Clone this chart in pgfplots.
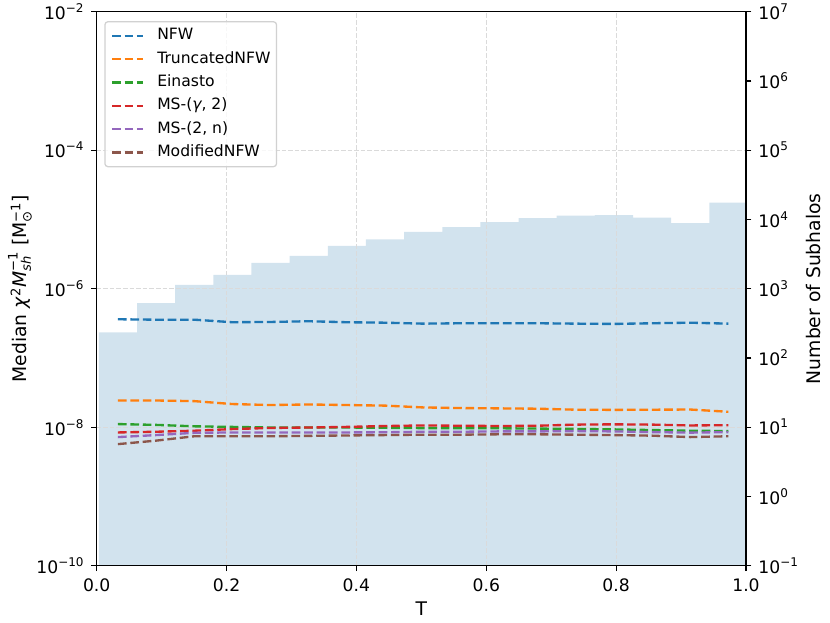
\documentclass[border=0pt]{standalone}
\usepackage{amsmath}
\usepackage{fontspec}
\setmainfont{DejaVu Sans}
\usepackage{pgfplots}
\usepackage{pgfplotstable}
\pgfplotsset{compat=1.18}
\definecolor{C0}{HTML}{1F77B4}
\definecolor{C1}{HTML}{FF7F0E}
\definecolor{C2}{HTML}{2CA02C}
\definecolor{C3}{HTML}{D62728}
\definecolor{C4}{HTML}{9467BD}
\definecolor{C5}{HTML}{8C564B}
\definecolor{histcol}{RGB}{210,227,238}
\definecolor{gridcol}{RGB}{218,218,218}
\newcommand{\tickfont}{\fontsize{17.2}{20.5}\selectfont}
\newcommand{\labfont}{\fontsize{18.75}{22}\selectfont}
\newcommand{\legfont}{\fontsize{15.6}{18}\selectfont}
\newcommand{\tenpow}[1]{10\raisebox{0.41em}{\fontsize{12}{13}\selectfont #1}}
\newcommand{\logtick}{\tenpow{\pgfmathparse{int(round(\tick))}\ifnum\pgfmathresult<0 −\number\numexpr-\pgfmathresult\relax\else\pgfmathresult\fi}}

\pgfplotstableread{
x      nfw      tnfw     ein      msg     msn      mnfw
0.0327 3.62e-7  2.43e-8  1.11e-8  0.84e-8 0.72e-8  0.57e-8
0.0915 3.57e-7  2.43e-8  1.08e-8  0.86e-8 0.77e-8  0.64e-8
0.1503 3.57e-7  2.38e-8  1.03e-8  0.89e-8 0.83e-8  0.74e-8
0.2090 3.28e-7  2.16e-8  1.01e-8  0.94e-8 0.84e-8  0.74e-8
0.2678 3.31e-7  2.09e-8  0.99e-8  0.975e-8 0.84e-8 0.74e-8
0.3265 3.39e-7  2.13e-8  0.99e-8  0.99e-8 0.84e-8  0.75e-8
0.3853 3.28e-7  2.09e-8  0.99e-8  1.01e-8 0.84e-8  0.76e-8
0.4441 3.23e-7  2.05e-8  0.98e-8  1.04e-8 0.845e-8 0.77e-8
0.5028 3.13e-7  1.93e-8  0.97e-8  1.06e-8 0.86e-8  0.78e-8
0.5616 3.17e-7  1.89e-8  0.965e-8 1.05e-8 0.86e-8  0.78e-8
0.6203 3.17e-7  1.87e-8  0.965e-8 1.04e-8 0.87e-8  0.79e-8
0.6791 3.17e-7  1.85e-8  0.955e-8 1.05e-8 0.87e-8  0.79e-8
0.7379 3.13e-7  1.79e-8  0.945e-8 1.09e-8 0.88e-8  0.78e-8
0.7966 3.10e-7  1.78e-8  0.93e-8  1.10e-8 0.87e-8  0.77e-8
0.8554 3.17e-7  1.79e-8  0.91e-8  1.09e-8 0.85e-8  0.755e-8
0.9141 3.23e-7  1.80e-8  0.89e-8  1.06e-8 0.835e-8 0.72e-8
0.9729 3.13e-7  1.67e-8  0.88e-8  1.07e-8 0.85e-8  0.74e-8
}\medians

\begin{document}
\begin{tikzpicture}[font=\tickfont]
\path[use as bounding box] (-96.7pt,-57.3pt) rectangle (733.3pt,565.7pt);
% histogram on right axis
\begin{axis}[
  scale only axis, width=649.3pt, height=554pt,
  xmin=0, xmax=1,
  ymode=log, log basis y=10, ymin=0.1, ymax=1e7,
  log origin y=infty,
  axis y line*=right, axis x line=none,
  ytick={0.1,1,10,100,1000,10000,100000,1000000,10000000},
  yticklabel={\logtick},
  tick align=outside,
  major tick length=5.47pt, minor tick length=3.1pt,
  every tick/.style={black, line width=1.25pt},
  every minor tick/.style={black, line width=0.9pt},
  axis line style={line width=1.25pt},
  yticklabel style={font=\tickfont, inner sep=0pt, anchor=west, xshift=6.8pt},
  ylabel={Number of Subhalos},
  every axis y label/.style={font=\labfont, at={(axis description cs:1.1155,0.5)}, anchor=base, rotate=90, inner sep=0pt},
]
\addplot[ybar interval, fill=histcol, draw=none] coordinates {
(0.0033,234) (0.0621,619) (0.1209,1136) (0.1796,1583) (0.2384,2358)
(0.2971,2970) (0.3559,4144) (0.4147,5170) (0.4734,6590) (0.5322,7770)
(0.5909,9180) (0.6497,10490) (0.7085,11310) (0.7672,11580) (0.8260,10590)
(0.8847,8880) (0.9435,17430) (1.0023,17430)};
\end{axis}
% medians on left axis
\begin{axis}[
  scale only axis, width=649.3pt, height=554pt,
  xmin=0, xmax=1,
  ymode=log, log basis y=10, ymin=1e-10, ymax=1e-2,
  ytick={1e-10,1e-8,1e-6,1e-4,1e-2},
  yminorticks=false,
  yticklabel={\logtick},
  yticklabel style={font=\tickfont, inner sep=0pt, anchor=east, xshift=-7.4pt},
  xtick={0,0.2,0.4,0.6,0.8,1.0},
  xticklabel style={font=\tickfont, inner sep=0pt, anchor=north, yshift=-7pt,
    /pgf/number format/.cd, fixed, fixed zerofill, precision=1, assume math mode=true},
  xtick pos=bottom, ytick pos=left,
  tick align=outside,
  major tick length=5.47pt,
  every tick/.style={black, line width=1.25pt},
  axis line style={line width=1.25pt},
  grid=major,
  major grid style={gridcol, line width=1.25pt, dash pattern=on 4.6pt off 2pt},
  xlabel={T},
  every axis x label/.style={font=\labfont, at={(axis description cs:0.5,-0.0899)}, anchor=base, inner sep=0pt},
  ylabel={Median $\text{\textit{χ}}^{\text{2}}\text{\textit{M}}^{\text{−1}}_{\text{\textit{sh}}}$ [M$^{\text{−1}}_{\text{⊙}}$]},
  every axis y label/.style={font=\labfont, at={(axis description cs:-0.1078,0.5)}, anchor=base, rotate=90, inner sep=0pt},
  legend cell align=left,
  legend style={at={(0.0117,0.983)}, anchor=north west, draw=black!18, line width=1.25pt, rounded corners=3pt,
    fill=white, fill opacity=0.8, text opacity=1, draw opacity=1,
    font=\legfont, inner xsep=6pt, inner ysep=6.2pt,
    row sep=7.3pt,
    nodes={inner xsep=0pt, inner ysep=0pt, text height=12pt, text depth=4pt},
    /tikz/every odd column/.append style={column sep=13pt}},
  legend image code/.code={\draw[#1] (0pt,0pt) -- (31pt,0pt);},
  every axis plot/.append style={line width=2.34pt, dash pattern=on 8.67pt off 3.75pt},
]
\addplot[C0] table[x=x,y=nfw] {\medians};
\addlegendentry{NFW}
\addplot[C1] table[x=x,y=tnfw] {\medians};
\addlegendentry{TruncatedNFW}
\addplot[C2] table[x=x,y=ein] {\medians};
\addlegendentry{Einasto}
\addplot[C3] table[x=x,y=msg] {\medians};
\addlegendentry{MS-(\textit{γ}, 2)}
\addplot[C4] table[x=x,y=msn] {\medians};
\addlegendentry{MS-(2, n)}
\addplot[C5] table[x=x,y=mnfw] {\medians};
\addlegendentry{ModifiedNFW}
\end{axis}
\end{tikzpicture}
\end{document}
